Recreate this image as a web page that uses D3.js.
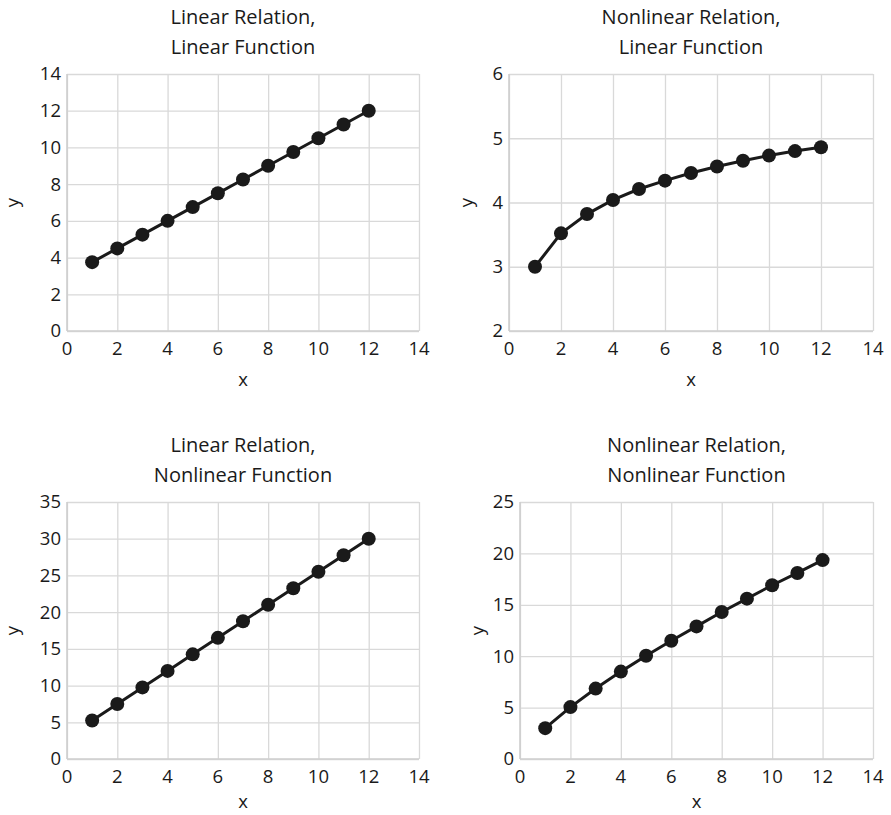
<!DOCTYPE html>
<html>
<head>
<meta charset="utf-8">
<script src="https://cdn.jsdelivr.net/npm/d3@7"></script>
<style>
  body { margin: 0; background: #fff; }
  svg text { font-family: "Open Sans", Lato, sans-serif; fill: #1a1a1a; }
</style>
</head>
<body>
<svg id="chart" width="891" height="815"></svg>
<script>
// data
var xValues = [1, 2, 3, 4, 5, 6, 7, 8, 9, 10, 11, 12];
var linRelLinFn = [3.75, 4.5, 5.25, 6, 6.75, 7.5, 8.25, 9, 9.75, 10.5, 11.25, 12];
var nonlinRelLinFn = [3, 3.52, 3.82, 4.04, 4.21, 4.34, 4.46, 4.56, 4.65, 4.73, 4.8, 4.86];
var linRelNonlinFn = [5.25, 7.5, 9.75, 12, 14.25, 16.5, 18.75, 21, 23.25, 25.5, 27.75, 30];
var nonlinRelNonlinFn = [3, 5.05, 6.85, 8.5, 10.05, 11.5, 12.9, 14.3, 15.6, 16.9, 18.1, 19.35];

var titles = [
  ["Linear Relation,", "Linear Function"],
  ["Nonlinear Relation,", "Linear Function"],
  ["Linear Relation,", "Nonlinear Function"],
  ["Nonlinear Relation,", "Nonlinear Function"]
];
var xTicks = [0, 2, 4, 6, 8, 10, 12, 14];
var yTicks = [
  [0, 2, 4, 6, 8, 10, 12, 14],
  [2, 3, 4, 5, 6],
  [0, 5, 10, 15, 20, 25, 30, 35],
  [0, 5, 10, 15, 20, 25]
];
var series = [linRelLinFn, nonlinRelLinFn, linRelNonlinFn, nonlinRelNonlinFn];

// layout of each panel (plot area box)
var boxes = [
  {left: 67, right: 419, top: 74, bottom: 331},
  {left: 509, right: 873, top: 74, bottom: 331},
  {left: 67, right: 419, top: 502, bottom: 759},
  {left: 520, right: 873, top: 502, bottom: 759}
];

var svg = d3.select("#chart");
var gridColor = "#d9d9d9";
var tickSize = 18.5;
var titleSize = 20;

boxes.forEach(function(b, i) {
  var ticksY = yTicks[i];
  var x = d3.scaleLinear().domain([0, 14]).range([b.left, b.right]);
  var y = d3.scaleLinear().domain([ticksY[0], ticksY[ticksY.length - 1]]).range([b.bottom, b.top]);
  var g = svg.append("g");

  // gridlines
  g.append("g")
    .attr("transform", "translate(0," + b.bottom + ")")
    .call(d3.axisBottom(x).tickValues(xTicks).tickSize(-(b.bottom - b.top)).tickFormat(""))
    .call(function(s) {
      s.select(".domain").remove();
      s.selectAll("line").attr("stroke", gridColor).attr("stroke-width", 1.3);
    });
  g.append("g")
    .attr("transform", "translate(" + b.left + ",0)")
    .call(d3.axisLeft(y).tickValues(ticksY).tickSize(-(b.right - b.left)).tickFormat(""))
    .call(function(s) {
      s.select(".domain").remove();
      s.selectAll("line").attr("stroke", gridColor).attr("stroke-width", 1.3);
    });
  // axis lines
  g.append("line").attr("x1", b.left).attr("x2", b.left).attr("y1", b.top).attr("y2", b.bottom)
    .attr("stroke", "#cfcfcf").attr("stroke-width", 1.6);
  g.append("line").attr("x1", b.left).attr("x2", b.right).attr("y1", b.bottom).attr("y2", b.bottom)
    .attr("stroke", "#cfcfcf").attr("stroke-width", 1.6);

  // tick labels
  g.selectAll(".xl").data(xTicks).enter().append("text")
    .attr("x", function(d) { return x(d); })
    .attr("y", b.bottom + 18)
    .attr("dy", "0.35em")
    .attr("text-anchor", "middle")
    .attr("font-size", tickSize)
    .text(function(d) { return d; });
  g.selectAll(".yl").data(ticksY).enter().append("text")
    .attr("x", b.left - 6)
    .attr("y", function(d) { return y(d); })
    .attr("dy", "0.35em")
    .attr("text-anchor", "end")
    .attr("font-size", tickSize)
    .text(function(d) { return d; });

  // axis titles
  var cx = (b.left + b.right) / 2;
  g.append("text")
    .attr("x", cx)
    .attr("y", b.bottom + (i < 2 ? 49 : 43))
    .attr("dy", "0.35em")
    .attr("text-anchor", "middle")
    .attr("font-size", tickSize)
    .text("x");
  var yl = (i % 2 === 0) ? b.left - 54 : b.left - 42;
  g.append("text")
    .attr("transform", "translate(" + yl + "," + ((b.top + b.bottom) / 2) + ") rotate(-90)")
    .attr("dy", "0.35em")
    .attr("text-anchor", "middle")
    .attr("font-size", tickSize)
    .text("y");

  // chart title
  titles[i].forEach(function(t, k) {
    g.append("text")
      .attr("x", cx)
      .attr("y", b.top - 57 + k * 30)
      .attr("dy", "0.35em")
      .attr("text-anchor", "middle")
      .attr("font-size", titleSize)
      .text(t);
  });

  // series
  var pts = xValues.map(function(v, j) { return [v, series[i][j]]; });
  var line = d3.line().x(function(d) { return x(d[0]); }).y(function(d) { return y(d[1]); });
  g.append("path")
    .datum(pts)
    .attr("d", line)
    .attr("fill", "none")
    .attr("stroke", "#1a1a1a")
    .attr("stroke-width", 3);
  g.selectAll("circle").data(pts).enter().append("circle")
    .attr("cx", function(d) { return x(d[0]); })
    .attr("cy", function(d) { return y(d[1]); })
    .attr("r", 7)
    .attr("fill", "#1a1a1a");
});
</script>
</body>
</html>
